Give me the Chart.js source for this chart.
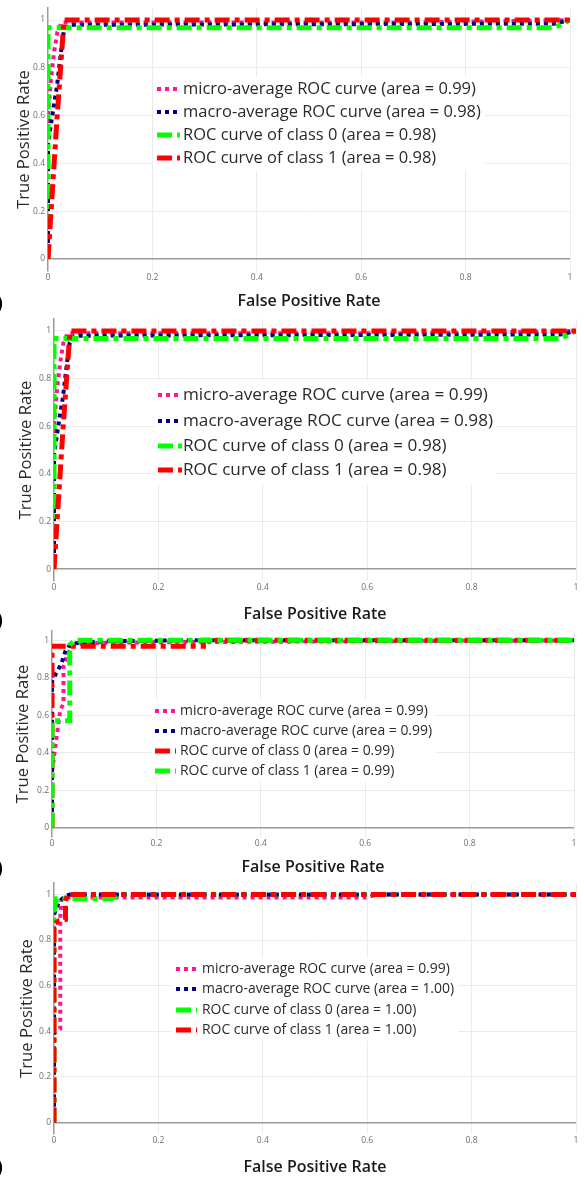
<!DOCTYPE html>
<html>
<head>
<meta charset="utf-8">
<script src="https://cdn.jsdelivr.net/npm/chart.js@4.4.1/dist/chart.umd.min.js"></script>
<style>
html,body{margin:0;padding:0;background:#fff;}
#wrap{position:relative;width:584px;height:1178px;overflow:hidden;background:#fff;}
#wrap canvas{position:absolute;left:0;}
.tag{position:absolute;left:-3px;font:700 17px "Open Sans",sans-serif;color:#000;line-height:20px;}
</style>
</head>
<body>
<div id="wrap">
  <canvas id="c1"></canvas>
  <canvas id="c2"></canvas>
  <canvas id="c3"></canvas>
  <canvas id="c4"></canvas>
  <span class="tag" style="top:293px">)</span>
  <span class="tag" style="top:610px">)</span>
  <span class="tag" style="top:858px">)</span>
  <span class="tag" style="top:1157px">)</span>
</div>
<script>
// ---------------- data ----------------
const fprTicks = [0, 0.2, 0.4, 0.6, 0.8, 1];
const tprTicks = [0, 0.2, 0.4, 0.6, 0.8, 1];
const xTitle = 'False Positive Rate';
const yTitle = 'True Positive Rate';

// panels (a) and (b)
const abLabels = [
  'micro-average ROC curve (area = 0.99)',
  'macro-average ROC curve (area = 0.98)',
  'ROC curve of class 0 (area = 0.98)',
  'ROC curve of class 1 (area = 0.98)'
];
const abMicroFpr = [0, 0, 0.006, 0.012, 0.018, 0.026, 0.7, 1];
const abMicroTpr = [0, 0.6, 0.76, 0.87, 0.95, 0.99, 0.99, 1];
const abMacroFpr = [0, 0, 0.004, 0.011, 0.017, 0.024, 0.03, 0.04, 0.97, 1];
const abMacroTpr = [0, 0.48, 0.54, 0.64, 0.72, 0.85, 0.95, 0.98, 0.985, 1];
const abClass0Fpr = [0, 0, 0.97, 1];
const abClass0Tpr = [0, 0.968, 0.968, 1];
const abClass1Fpr = [0, 0.017, 0.029, 0.031, 1];
const abClass1Tpr = [0, 0.58, 0.95, 1, 1];

// panel (c)
const cLabels = [
  'micro-average ROC curve (area = 0.99)',
  'macro-average ROC curve (area = 0.99)',
  'ROC curve of class 0 (area = 0.99)',
  'ROC curve of class 1 (area = 0.99)'
];
const cMicroFpr = [0, 0, 0.016, 0.022, 0.022, 0.03, 0.04, 0.06, 0.2, 1];
const cMicroTpr = [0, 0.3, 0.63, 0.66, 0.86, 0.93, 0.97, 0.985, 0.99, 1];
const cMacroFpr = [0, 0, 0.008, 0.015, 0.021, 0.026, 0.032, 0.046, 0.1, 0.25, 1];
const cMacroTpr = [0, 0.78, 0.825, 0.86, 0.9, 0.945, 0.968, 0.985, 0.995, 1, 1];
const cClass0Fpr = [0, 0, 0.29, 0.29, 1];
const cClass0Tpr = [0, 0.968, 0.968, 1, 1];
const cClass1Fpr = [0, 0, 0.034, 0.034, 0.045, 1];
const cClass1Tpr = [0, 0.571, 0.571, 0.977, 1, 1];

// panel (d)
const dLabels = [
  'micro-average ROC curve (area = 0.99)',
  'macro-average ROC curve (area = 1.00)',
  'ROC curve of class 0 (area = 1.00)',
  'ROC curve of class 1 (area = 1.00)'
];
const dMicroFpr = [0, 0, 0.012, 0.012, 0.014, 0.02, 0.6, 0.62, 1];
const dMicroTpr = [0, 0.39, 0.41, 0.9, 0.975, 0.987, 0.987, 1, 1];
const dMacroFpr = [0, 0, 0.008, 0.013, 0.02, 0.03, 1];
const dMacroTpr = [0, 0.91, 0.96, 0.975, 0.99, 1, 1];
const dClass0Fpr = [0, 0, 0.005, 0.11, 0.125, 1];
const dClass0Tpr = [0, 0.93, 0.981, 0.981, 1, 1];
const dClass1Fpr = [0, 0, 0.01, 0.022, 0.022, 0.026, 1];
const dClass1Tpr = [0, 0.87, 0.885, 0.89, 0.97, 1, 1];

// ---------------- styles ----------------
const PINK = '#ff1493', NAVY = '#000080', GREEN = '#00ff00', RED = '#ff0000';
const DOT = [4, 4], DASHDOT = [15, 5, 5, 5];
const FONT = '"Open Sans", sans-serif';

const mctx = document.createElement('canvas').getContext('2d');
function fitSize(text, target, weight) {
  mctx.font = (weight || 'normal') + ' 100px ' + FONT;
  return 100 * target / mctx.measureText(text).width;
}
const tickSize = fitSize('0.8', 12);
const yTitleSize = fitSize(yTitle, 139);
const xTitleSize = fitSize(xTitle, 143, '600');

function line(label, fpr, tpr, color, dash, width) {
  return { label, fpr, tpr, color, dash, width };
}

function legendPlugin(lg) {
  return {
    id: 'insideLegend',
    afterDraw(chart) {
      const ctx = chart.ctx;
      ctx.save();
      ctx.font = lg.size + 'px ' + FONT;
      const ds = chart.data.datasets;
      const maxW = Math.max(...ds.map(d => ctx.measureText(d.label).width));
      const rows = lg.rows;
      const gap = rows[1] - rows[0];
      ctx.fillStyle = '#ffffff';
      ctx.fillRect(lg.x - 4, rows[0] - gap * 0.55, lg.textX - lg.x + maxW + 8, rows[rows.length - 1] - rows[0] + gap * 1.1);
      ds.forEach((d, i) => {
        ctx.beginPath();
        ctx.setLineDash(d.borderDash || []);
        ctx.lineWidth = d.borderWidth;
        ctx.strokeStyle = d.borderColor;
        ctx.lineCap = 'butt';
        ctx.moveTo(lg.x, rows[i]);
        ctx.lineTo(lg.x + lg.len, rows[i]);
        ctx.stroke();
        ctx.setLineDash([]);
        ctx.fillStyle = '#2a2a2a';
        ctx.textBaseline = 'middle';
        ctx.textAlign = 'left';
        ctx.fillText(d.label, lg.textX, rows[i] + 0.5);
      });
      ctx.restore();
    }
  };
}

function buildPanel(p) {
  const canvas = document.getElementById(p.id);
  canvas.width = 584;
  canvas.height = p.height;
  canvas.style.top = p.top + 'px';
  canvas.style.width = '584px';
  canvas.style.height = p.height + 'px';
  const a = p.area;
  const padTop = a.t - p.top;
  const padRight = 584 - a.r;
  const yW = a.l;
  const xH = p.top + p.height - a.b;
  const yTitlePad = p.yTitleCx - yTitleSize * 1.2 / 2;
  const xTitlePad = (p.top + p.height) - p.xTitleCy - xTitleSize * 1.2 / 2;
  const legend = Object.assign({}, p.legend);
  legend.rows = p.legend.rows.map(r => r - p.top);
  legend.size = fitSize(p.series[0].label, p.legend.width);

  new Chart(canvas, {
    type: 'line',
    data: {
      datasets: p.series.map((s, i) => ({
        label: s.label,
        data: s.fpr.map((x, k) => ({ x: x, y: s.tpr[k] })),
        borderColor: s.color,
        backgroundColor: s.color,
        borderWidth: s.width,
        borderDash: s.dash,
        borderCapStyle: 'butt',
        borderJoinStyle: 'miter',
        pointRadius: 0,
        pointHoverRadius: 0,
        tension: 0,
        fill: false,
        clip: 0,
        order: p.series.length - i
      }))
    },
    options: {
      responsive: false,
      animation: false,
      devicePixelRatio: 1,
      events: [],
      layout: { padding: { top: padTop, right: padRight, left: 0, bottom: 0 } },
      plugins: { legend: { display: false }, tooltip: { enabled: false } },
      scales: {
        x: {
          type: 'linear', min: 0, max: 1,
          afterBuildTicks: s => { s.ticks = fprTicks.map(v => ({ value: v })); },
          afterFit: s => { s.height = xH; },
          grid: {
            drawTicks: false,
            color: c => (c.tick && c.tick.value === 0) ? 'rgba(0,0,0,0)' : '#ebebeb',
            lineWidth: 1
          },
          border: { display: false },
          ticks: {
            padding: 1, autoSkip: false, maxRotation: 0,
            color: '#6e6e6e', font: { family: FONT, size: tickSize },
            callback: v => String(v)
          },
          title: {
            display: true, text: xTitle, color: '#1a1a1a',
            font: { family: FONT, size: xTitleSize, weight: '600' },
            padding: { top: 0, bottom: xTitlePad }
          }
        },
        y: {
          type: 'linear', min: -0.05, max: 1.05,
          afterBuildTicks: s => { s.ticks = tprTicks.map(v => ({ value: v })); },
          afterFit: s => { s.width = yW; },
          grid: {
            drawTicks: false,
            color: c => (c.tick && c.tick.value === 0) ? '#999' : '#ebebeb',
            lineWidth: c => (c.tick && c.tick.value === 0) ? 1.5 : 1
          },
          border: { display: true, color: '#999', width: 1.5 },
          ticks: {
            padding: 3, autoSkip: false,
            color: '#6e6e6e', font: { family: FONT, size: tickSize },
            callback: v => String(v)
          },
          title: {
            display: true, text: yTitle, color: '#2a2a2a',
            font: { family: FONT, size: yTitleSize },
            padding: { top: yTitlePad, bottom: 0 }
          }
        }
      }
    },
    plugins: [legendPlugin(legend)]
  });
}

function abSeries() {
  return [
    line(abLabels[0], abMicroFpr, abMicroTpr, PINK, DOT, 4),
    line(abLabels[1], abMacroFpr, abMacroTpr, NAVY, DOT, 4),
    line(abLabels[2], abClass0Fpr, abClass0Tpr, GREEN, DASHDOT, 5),
    line(abLabels[3], abClass1Fpr, abClass1Tpr, RED, DASHDOT, 5)
  ];
}

buildPanel({
  id: 'c1', top: 0, height: 312,
  area: { l: 48, r: 570, t: 7, b: 271 },
  yTitleCx: 24.5, xTitleCy: 301,
  legend: { x: 157, len: 23, textX: 183, rows: [89, 112, 135, 158], width: 293 },
  series: abSeries()
});

buildPanel({
  id: 'c2', top: 306, height: 318,
  area: { l: 54, r: 576, t: 319, b: 581 },
  yTitleCx: 26, xTitleCy: 614,
  legend: { x: 158, len: 24, textX: 183, rows: [395, 421, 446, 470], width: 305 },
  series: abSeries()
});

buildPanel({
  id: 'c3', top: 620, height: 260,
  area: { l: 52, r: 574, t: 631, b: 837 },
  yTitleCx: 23, xTitleCy: 867,
  legend: { x: 155, len: 21, textX: 180, rows: [711, 731, 751, 771], width: 248 },
  series: [
    line(cLabels[0], cMicroFpr, cMicroTpr, PINK, DOT, 4),
    line(cLabels[1], cMacroFpr, cMacroTpr, NAVY, DOT, 4),
    line(cLabels[2], cClass0Fpr, cClass0Tpr, RED, DASHDOT, 5),
    line(cLabels[3], cClass1Fpr, cClass1Tpr, GREEN, DASHDOT, 5)
  ]
});

buildPanel({
  id: 'c4', top: 872, height: 306,
  area: { l: 54, r: 576, t: 883, b: 1134 },
  yTitleCx: 27, xTitleCy: 1167,
  legend: { x: 176, len: 21, textX: 202, rows: [969, 989, 1010, 1030], width: 248 },
  series: [
    line(dLabels[0], dMicroFpr, dMicroTpr, PINK, DOT, 4),
    line(dLabels[1], dMacroFpr, dMacroTpr, NAVY, DOT, 4),
    line(dLabels[2], dClass0Fpr, dClass0Tpr, GREEN, DASHDOT, 5),
    line(dLabels[3], dClass1Fpr, dClass1Tpr, RED, DASHDOT, 5)
  ]
});
</script>
</body>
</html>
